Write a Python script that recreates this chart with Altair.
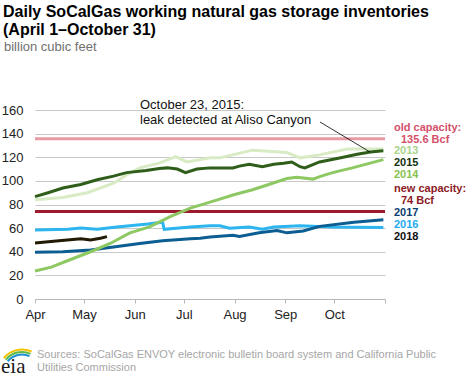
import altair as alt
import pandas as pd

FONT = "Liberation Sans"

# days after April 1, and storage in billion cubic feet
days_2013 = [0, 17, 32, 48, 56, 64, 76, 86, 93, 101, 107, 113, 133, 154, 162, 174, 191, 209, 213]
vals_2013 = [84, 86, 90, 98, 105, 111, 115, 120.6, 116, 118, 119.5, 119.5, 126, 124, 119.5, 122, 127, 127, 127]

days_2014 = [0, 10, 21, 34, 46, 58, 70, 83, 95, 107, 113, 121, 133, 142, 154, 160, 170, 175, 182, 194, 213]
vals_2014 = [23.7, 27, 33, 40, 47, 56, 61, 70, 77, 82, 84.5, 88, 92.5, 96.5, 102, 103, 101.5, 104, 107, 111, 118]

days_2015 = [0, 8, 17, 28, 38, 48, 56, 68, 76, 81, 87, 92, 99, 107, 113, 121, 125, 131, 139, 146, 152, 157, 162, 165, 174, 187, 197, 205, 213]
vals_2015 = [86.7, 90, 94, 97, 101, 104, 107, 108.7, 110.5, 111, 110, 107, 110, 111, 111, 111, 112.5, 114, 112, 114, 115, 116, 112, 111, 116, 119.5, 122.5, 124.5, 125.5]

days_2016 = [0, 20, 28, 38, 50, 69, 78, 79, 95, 107, 113, 119, 131, 139, 146, 162, 182, 213]
vals_2016 = [58.5, 59, 60, 59, 61, 63.5, 65, 59, 61, 62, 62, 60, 61, 59, 61, 62, 61, 60.5]

days_2017 = [0, 17, 34, 48, 64, 78, 95, 101, 107, 121, 125, 137, 148, 154, 164, 174, 195, 213]
vals_2017 = [39.6, 40, 41.5, 44, 47, 49.4, 51, 51.5, 52.5, 54, 53, 56, 58, 56, 57.6, 61.5, 65, 67]

days_2018 = [0, 13, 28, 34, 40, 44]
vals_2018 = [47.5, 49, 51, 50, 51.5, 52.8]

old_capacity = 135.6
new_capacity = 74

series = [
    ("2016", days_2016, vals_2016, "#2cb5ee"),
    ("2017", days_2017, vals_2017, "#0b5d92"),
    ("2018", days_2018, vals_2018, "#231a05"),
    ("2013", days_2013, vals_2013, "#d8ebc4"),
    ("2015", days_2015, vals_2015, "#2e5e1a"),
    ("2014", days_2014, vals_2014, "#8dc862"),
]

start = pd.Timestamp("2015-04-01")


def frame(days, vals):
    d = [(start + pd.Timedelta(days=int(n))).strftime("%Y-%m-%d") for n in days]
    return pd.DataFrame({"date": d, "value": vals})


x_scale = alt.Scale(type="utc", domain=[alt.DateTime(year=2015, month=4, date=1, utc=True),
                                        alt.DateTime(year=2015, month=11, date=1, utc=True)])
y_scale = alt.Scale(domain=[0, 160], nice=False)

month_ticks = [alt.DateTime(year=2015, month=m, date=1, utc=True) for m in range(4, 12)]

x_axis = alt.Axis(
    values=month_ticks, labelExpr="utcmonth(datum.value) == 10 ? '' : utcFormat(datum.value, '%b')",
    title=None, grid=False, domainColor="#b8b8b8", domainWidth=1, tickColor="#b8b8b8", tickSize=4,
    labelFont=FONT, labelFontSize=13, labelColor="#222222", labelPadding=5, labelFlush=False,
)
y_axis = alt.Axis(
    values=list(range(0, 161, 20)), title=None, grid=True, gridColor="#c8c8c8", gridWidth=1,
    domain=False, ticks=False, labelFont=FONT, labelFontSize=13, labelColor="#222222", labelPadding=12,
)

cap_df = pd.DataFrame({"value": [old_capacity, new_capacity], "kind": ["old", "new"]})
caps = alt.Chart(cap_df).mark_rule(strokeWidth=3).encode(
    y=alt.Y("value:Q", scale=y_scale, axis=y_axis),
    color=alt.Color("kind:N", scale=alt.Scale(domain=["old", "new"], range=["#e79aa3", "#9d1a2c"]), legend=None),
)

layers = [caps]
for name, d, v, c in series:
    layers.append(
        alt.Chart(frame(d, v)).mark_line(strokeWidth=3, color=c, interpolate="linear").encode(
            x=alt.X("date:T", scale=x_scale, axis=x_axis),
            y=alt.Y("value:Q", scale=y_scale, axis=y_axis),
        )
    )

one = pd.DataFrame({"a": [0]})


def txt(text, x, y, color="#000000", size=13, weight="normal", align="left", baseline="middle", font=FONT):
    return alt.Chart(one).mark_text(
        text=text, align=align, baseline=baseline, fontSize=size, fontWeight=weight, color=color, font=font
    ).encode(x=alt.value(x), y=alt.value(y))


# title & subtitle
layers.append(txt("Daily SoCalGas working natural gas storage inventories", -32, -93.5, "#000000", 16, "bold", baseline="alphabetic"))
layers.append(txt("(April 1\u2013October 31)", -32, -75, "#000000", 16, "bold", baseline="alphabetic"))
layers.append(txt("billion cubic feet", -31, -59.5, "#707070", 13, baseline="alphabetic"))

# annotation
layers.append(txt("October 23, 2015:", 105, -5.5, "#111111", 13))
layers.append(txt("leak detected at Aliso Canyon", 105, 9.5, "#111111", 13))
layers.append(
    alt.Chart(one).mark_rule(color="#000000", strokeWidth=0.8).encode(
        x=alt.value(285), y=alt.value(12), x2=alt.value(335), y2=alt.value(42)
    )
)

# right-side labels
right = [
    ("old capacity:", 359, 18, "#d4506a"),
    ("135.6 Bcf", 366, 29.7, "#d4506a"),
    ("2013", 359, 41.3, "#a9d48c"),
    ("2015", 359, 53.3, "#14320b"),
    ("2014", 359, 65.3, "#86c24f"),
    ("new capacity:", 359, 79, "#8b1a1f"),
    ("74 Bcf", 366, 91.3, "#8b1a1f"),
    ("2017", 359, 103.3, "#0b3c6e"),
    ("2016", 359, 115.3, "#1eaaf0"),
    ("2018", 359, 127, "#111111"),
]
for t, x, y, c in right:
    layers.append(txt(t, x, y, c, 11, "bold"))

# footer
layers.append(txt("Sources: SoCalGas ENVOY electronic bulletin board system and California Public", 2, 244.5, "#a6a6a6", 11))
layers.append(txt("Utilities Commission", 2, 257.5, "#a6a6a6", 11))

# eia logo
for r1, r2, c in [(17.5, 19.5, "#1d8fd3"), (20, 22, "#5cb847"), (22.5, 24.5, "#f2c200")]:
    layers.append(
        alt.Chart(one).mark_arc(innerRadius=r1, outerRadius=r2, theta=5.40, theta2=6.70, color=c).encode(
            x=alt.value(-13), y=alt.value(263)
        )
    )
layers.append(txt("eia", -34, 263, "#1a1a1a", 21, baseline="alphabetic", font="Liberation Serif"))

chart = alt.layer(*layers).properties(
    width=350, height=189,
    autosize=alt.AutoSizeParams(type="none"),
    padding={"left": 35, "top": 110, "right": 83, "bottom": 79},
).configure_view(stroke=None).resolve_scale(color="independent")

chart.save("out.html", embed_options={"renderer": "svg", "actions": False})
